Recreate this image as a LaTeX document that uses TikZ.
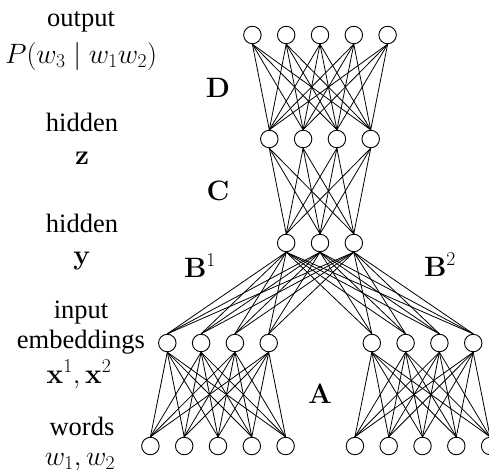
\RequirePackage{fix-cm}
\documentclass[tikz,border=0pt]{standalone}
\usepackage[no-math]{fontspec}
\setmainfont{Liberation Serif}
\begin{document}
\begin{tikzpicture}[x=1pt,y=-1pt,
  neuron/.style={circle,draw,line width=0.9pt,minimum size=17.5pt,inner sep=0pt},
  conn/.style={line width=0.8pt},
  lbl/.style={anchor=base,inner sep=0pt,font=\fontsize{26.5}{30}\selectfont},
  mlbl/.style={anchor=base,inner sep=0pt,font=\fontsize{28}{32}\selectfont}]
\useasboundingbox (0,0) rectangle (489,472);
\begin{scope}
\clip (0,0) rectangle (489,472);
% layers
\foreach \i in {1,...,5} \node[neuron] (o\i) at ({320+(\i-3)*33.8},35) {};
\foreach \i in {1,...,4} \node[neuron] (z\i) at ({320+(\i-2.5)*33.8},139) {};
\foreach \i in {1,...,3} \node[neuron] (y\i) at ({320+(\i-2)*33.8},243) {};
\foreach \i in {1,...,4} \node[neuron] (el\i) at ({218+(\i-2.5)*33.8},343) {};
\foreach \i in {1,...,4} \node[neuron] (er\i) at ({422.5+(\i-2.5)*33.8},343) {};
\foreach \i in {1,...,5} \node[neuron] (wl\i) at ({218+(\i-3)*33.8},446) {};
\foreach \i in {1,...,5} \node[neuron] (wr\i) at ({422.5+(\i-3)*33.8},446) {};
% connections
\foreach \i in {1,...,5} \foreach \j in {1,...,4} \draw[conn] (o\i.south) -- (z\j.north);
\foreach \i in {1,...,4} \foreach \j in {1,...,3} \draw[conn] (z\i.south) -- (y\j.north);
\foreach \i in {1,...,3} \foreach \j in {1,...,4} {
  \draw[conn] (y\i.south) -- (el\j.north);
  \draw[conn] (y\i.south) -- (er\j.north);}
\foreach \i in {1,...,4} \foreach \j in {1,...,5} {
  \draw[conn] (el\i.south) -- (wl\j.north);
  \draw[conn] (er\i.south) -- (wr\j.north);}
\end{scope}
% weight labels
\node[mlbl] (D) at (218,97) {$\mathbf{D}$};
\node[mlbl] (C) at (218,200) {$\mathbf{C}$};
\node[mlbl] (B1) at (200,277) {$\mathbf{B}^1$};
\node[mlbl] (B2) at (440,276) {$\mathbf{B}^2$};
\node[mlbl] (A) at (320,403) {$\mathbf{A}$};
% layer labels
\node[lbl] (t1) at (81,26.5) {output};
\node[mlbl] (t2) at (81,63.5) {$P(w_3\mid w_1w_2)$};
\node[lbl] (t3) at (82,131) {hidden};
\node[mlbl] (t4) at (82,164) {$\mathbf{z}$};
\node[lbl] (t5) at (82,232) {hidden};
\node[mlbl] (t6) at (82,264) {$\mathbf{y}$};
\node[lbl] (t7) at (81,318) {input};
\node[lbl] (t8) at (81,348) {embeddings};
\node[mlbl] (t9) at (79,383) {$\mathbf{x}^1,\mathbf{x}^2$};
\node[lbl] (t10) at (82,435) {words};
\node[mlbl] (t11) at (80,465) {$w_1,w_2$};
\end{tikzpicture}
\end{document}
